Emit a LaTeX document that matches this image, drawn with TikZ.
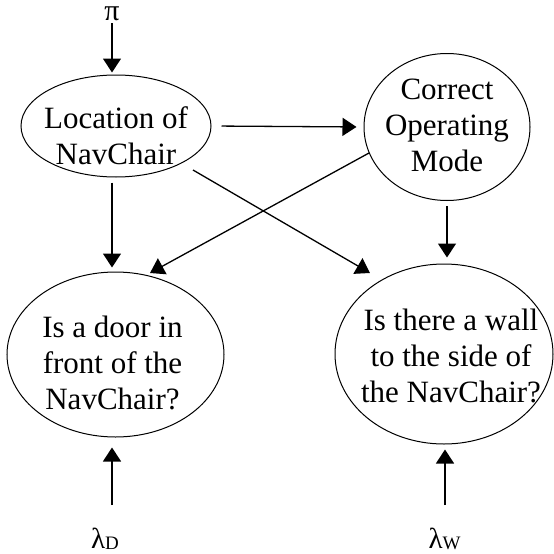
\documentclass[tikz,border=0pt]{standalone}
\usepackage{fontspec}
\setmainfont{Liberation Serif}
\usetikzlibrary{arrows.meta,shapes.geometric,calc}
\begin{document}
\begin{tikzpicture}[x=1pt,y=-1pt,
  state/.style={ellipse,draw,line width=1pt,inner sep=0pt},
  txt/.style={align=center,font=\fontsize{31}{36}\selectfont,inner sep=0pt},
  arr/.style={-{Triangle[length=14pt,width=18pt]},line width=1.3pt},
  sym/.style={font=\fontsize{29}{34}\selectfont,inner sep=1pt}]
\useasboundingbox (0,0) rectangle (554,554);

% belief nodes
\node[state,minimum width=190pt,minimum height=102pt] (loc) at (116,126) {};
\node[state,minimum width=166pt,minimum height=147pt] (cor) at (447,127) {};
\node[state,minimum width=217pt,minimum height=165pt] (door) at (115.5,354.5) {};
\node[state,minimum width=218pt,minimum height=180pt] (wall) at (444,354) {};

% node captions
\node[txt] (locT) at ($(loc)+(0,9.5)$) {Location of\\NavChair};
\node[txt] (corT) at ($(cor)+(0,-1.5)$) {Correct\\Operating\\Mode};
\node[txt] (doorT) at ($(door)+(-3,8)$) {Is a door in\\front of the\\NavChair?};
\node[txt] (wallT) at ($(wall)+(7,1.5)$) {Is there a wall\\to the side of\\the NavChair?};

% priors and evidence
\node[sym,inner sep=0pt,font=\fontsize{30}{30}\selectfont] (pi) at (112,14) {π};
\node[sym] (lamD) at (105,539) {λ\raisebox{-1.5pt}{\fontsize{19}{19}\selectfont D}};
\node[sym] (lamW) at (444.5,539) {λ\raisebox{-1.5pt}{\fontsize{19}{19}\selectfont W}};
\coordinate (dBase) at (112,505);
\coordinate (wBase) at (445,505);

% connectors
\draw[arr,shorten <=2pt,shorten >=2pt] (pi.south) -- (pi.south |- loc.north);
\draw[arr,shorten <=10pt,shorten >=7pt] (loc.east) -- (cor.west);
\draw[arr,shorten <=5pt,shorten >=4pt] (loc.south -| pi) -- (pi |- door.north);
\draw[arr] ($(loc)+(77,44)$) -- ($(wall)+(-74,-81)$);
\draw[arr] ($(cor)+(-78,26)$) -- ($(door)+(34.5,-81.5)$);
\draw[arr,shorten <=5pt,shorten >=6pt] (cor.south) -- (cor.south |- wall.north);
\draw[arr,shorten >=10pt] (dBase) -- (dBase |- door.south);
\draw[arr,shorten >=5pt] (wBase) -- (wBase |- wall.south);
\end{tikzpicture}
\end{document}
